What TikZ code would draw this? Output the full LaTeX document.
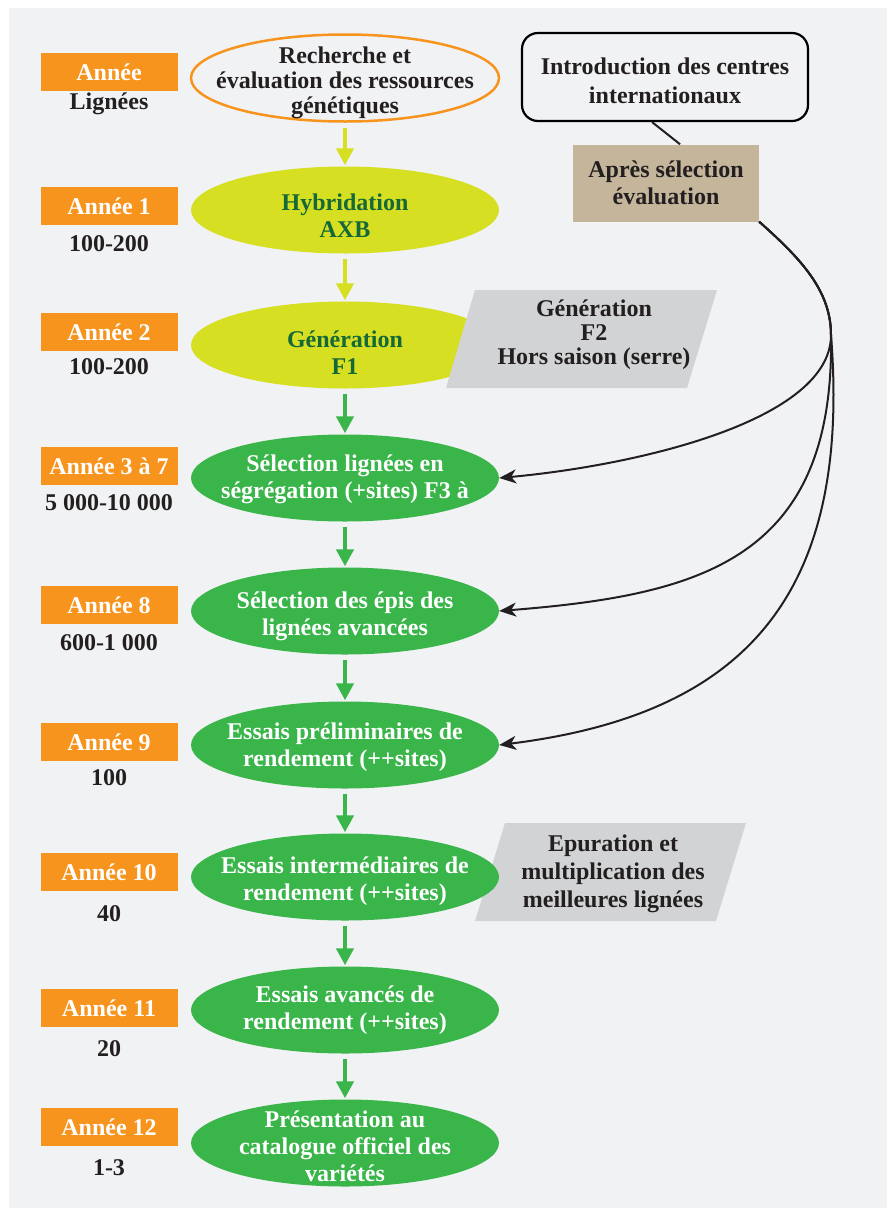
\documentclass[tikz,border=0pt]{standalone}
\usepackage{fontspec}
\setmainfont{Liberation Serif}
\usetikzlibrary{shapes.geometric,arrows.meta}
\definecolor{pagegray}{RGB}{241, 242, 244}
\definecolor{yearorange}{RGB}{247, 148, 30}
\definecolor{limegreen}{RGB}{215, 223, 35}
\definecolor{flowgreen}{RGB}{57, 181, 74}
\definecolor{darkgreen}{RGB}{20, 105, 55}
\definecolor{notegray}{RGB}{209, 211, 212}
\definecolor{tanbox}{RGB}{196, 181, 155}
\definecolor{inkblack}{RGB}{35, 31, 32}

\begin{document}
\begin{tikzpicture}[x=1pt, y=-1pt,
  every node/.style={font=\fontsize{24}{27}\selectfont\bfseries, text=inkblack, align=center},
  yearbox/.style={fill=yearorange, text=white, minimum width=137pt, minimum height=38pt, inner sep=0pt},
  stage/.style={ellipse, minimum width=308pt, minimum height=87pt, inner sep=-30pt},
  earlystage/.style={stage, fill=limegreen, text=darkgreen},
  latestage/.style={stage, fill=flowgreen, text=white},
  notefill/.style={fill=notegray},
  flowarrow/.style={line width=4.5pt, -{Triangle[length=17pt,width=17pt]}, shorten <=5pt, shorten >=1pt},
  linkarrow/.style={line width=2pt, draw=inkblack, -{Stealth[length=17pt,width=14pt,inset=5pt]}}
]
\useasboundingbox (0,0) rectangle (893,1216);
\fill[pagegray] (9,8) rectangle (887,1208);

% annees et nombre de lignees
\node[yearbox] (an0) at (109,72) {Année};
\node (nb0) at (109,104) {Lignées};
\node[yearbox] (an1) at (109,206) {Année 1};
\node (nb1) at (109,244) {100-200};
\node[yearbox] (an2) at (109,332) {Année 2};
\node (nb2) at (109,367) {100-200};
\node[yearbox] (an3) at (109,466) {Année 3 à 7};
\node (nb3) at (109,503) {5 000-10 000};
\node[yearbox] (an8) at (109,605) {Année 8};
\node (nb8) at (109,643) {600-1 000};
\node[yearbox] (an9) at (109,742) {Année 9};
\node (nb9) at (109,778) {100};
\node[yearbox] (an10) at (109,872) {Année 10};
\node (nb10) at (109,914) {40};
\node[yearbox] (an11) at (109,1008) {Année 11};
\node (nb11) at (109,1049) {20};
\node[yearbox] (an12) at (109,1127) {Année 12};
\node (nb12) at (109,1168) {1-3};

% etapes
\node[stage, draw=yearorange, line width=2.5pt, font=\fontsize{24}{25}\selectfont\bfseries] (st0) at (345,78)
  {\rule{0pt}{26pt}Recherche et\\évaluation des ressources\\génétiques};
\node[earlystage] (st1) at (345,210) {\rule{0pt}{28pt}Hybridation\\AXB};
\node[earlystage] (st2) at (345,345) {\rule{0pt}{32pt}Génération\\F1};
\fill[notefill] (475,290) -- (717,290) -- (687,388) -- (446,388) -- cycle;
\node[font=\fontsize{24}{24}\selectfont\bfseries] (f2) at (594,335) {Génération\\F2\\Hors saison (serre)};
\node[latestage] (st3) at (345,478) {\rule{0pt}{20pt}Sélection lignées en\\ségrégation (+sites) F3 à};
\node[latestage] (st4) at (345,611) {\rule{0pt}{28pt}Sélection des épis des\\lignées avancées};
\node[latestage] (st5) at (345,745) {\rule{0pt}{22pt}Essais préliminaires de\\rendement (++sites)};
\fill[notefill] (505,823) -- (746,823) -- (716,921) -- (475,921) -- cycle;
\node[font=\fontsize{24}{28}\selectfont\bfseries] (epur) at (613,874) {Epuration et\\multiplication des\\meilleures lignées};
\node[latestage] (st6) at (345,877) {\rule{0pt}{26pt}Essais intermédiaires de\\rendement (++sites)};
\node[latestage] (st7) at (345,1010) {Essais avancés de\\rendement (++sites)};
\node[latestage] (st8) at (345,1143) {\rule{0pt}{24pt}Présentation au\\catalogue officiel des\\variétés};

\draw[flowarrow, draw=limegreen] (st0) -- (st1);
\draw[flowarrow, draw=limegreen] (st1) -- (st2);
\draw[flowarrow, draw=flowgreen] (st2) -- (st3);
\draw[flowarrow, draw=flowgreen] (st3) -- (st4);
\draw[flowarrow, draw=flowgreen] (st4) -- (st5);
\draw[flowarrow, draw=flowgreen] (st5) -- (st6);
\draw[flowarrow, draw=flowgreen] (st6) -- (st7);
\draw[flowarrow, draw=flowgreen] (st7) -- (st8);

% apports exterieurs
\node[draw=black, line width=2.2pt, rounded corners=16pt, minimum width=286pt, minimum height=88pt,
  font=\fontsize{24}{29}\selectfont\bfseries] (intro) at (665,77) {\rule{0pt}{24pt}Introduction des centres\\internationaux};
\node[fill=tanbox, minimum width=186pt, minimum height=77pt] (tan) at (666,183) {Après sélection\\évaluation};
\draw[line width=2pt, draw=inkblack] (intro.-106) -- (tan.70);

\coordinate (fork) at (831,335);
\draw[linkarrow] (tan.south east) .. controls (800,258) and (831,290) .. (fork)
  .. controls (831,420) and (640,465) .. (st3.east);
\draw[linkarrow] (tan.south east) .. controls (800,258) and (831,290) .. (fork)
  .. controls (835,560) and (700,595) .. (st4.east);
\draw[linkarrow] (tan.south east) .. controls (800,258) and (831,290) .. (fork)
  .. controls (852,600) and (740,715) .. (st5.east);
\end{tikzpicture}
\end{document}
